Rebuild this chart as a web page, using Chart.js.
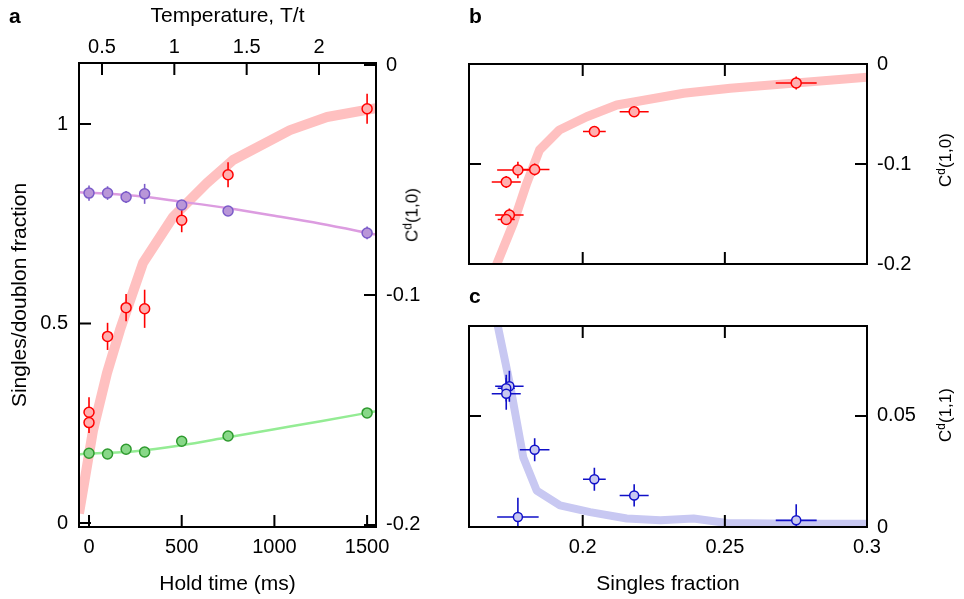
<!DOCTYPE html>
<html>
<head>
<meta charset="utf-8">
<script src="https://cdn.jsdelivr.net/npm/chart.js@4.4.1/dist/chart.umd.min.js"></script>
<style>
  html, body { margin: 0; padding: 0; background: #fff; }
  #fig { position: relative; width: 964px; height: 599px; overflow: hidden; font-family: "Liberation Sans", Arial, sans-serif; color: #000; }
  #fig canvas { position: absolute; }
  .panel { position: absolute; font-weight: bold; font-size: 21px; line-height: 1; }
  .ctitle { position: absolute; font-size: 17px; line-height: 1; white-space: nowrap; transform: translate(-50%, -50%) rotate(-90deg); }
  .ctitle sup { font-size: 0.7em; vertical-align: 0.5em; line-height: 0; }
</style>
</head>
<body>
<div id="fig">
  <canvas id="chartA" width="450" height="599" style="left:0;top:0"></canvas>
  <canvas id="chartB" width="514" height="290" style="left:450px;top:0"></canvas>
  <canvas id="chartC" width="514" height="309" style="left:450px;top:290px"></canvas>
  <div class="panel" style="left:9px;top:5px">a</div>
  <div class="panel" style="left:469px;top:5px">b</div>
  <div class="panel" style="left:469px;top:285px">c</div>
  <div class="ctitle" style="left:412px;top:215px">C<sup>d</sup>(1,0)</div>
  <div class="ctitle" style="left:945px;top:160px">C<sup>d</sup>(1,0)</div>
  <div class="ctitle" style="left:945px;top:415px">C<sup>d</sup>(1,1)</div>
</div>
<script>
// panel a: singles / doublon fractions vs hold time
const holdTime = [0, 100, 200, 300, 500, 750, 1500]
const doublonFrac = [0.827, 0.827, 0.817, 0.825, 0.797, 0.782, 0.727]
const doublonErr = [0.019, 0.017, 0.015, 0.025, 0.008, 0.008, 0.016]
const singlesFrac = [0.175, 0.173, 0.185, 0.178, 0.205, 0.218, 0.276]
const singlesErr = [0.005, 0.005, 0.005, 0.005, 0.005, 0.005, 0.005]

// fitted curves (panel a)
const fitTime = [-54, 0, 250, 500, 750, 1000, 1250, 1548]
const doublonFit = [0.829, 0.828, 0.82, 0.805, 0.789, 0.77, 0.75, 0.723]
const singlesFit = [0.172, 0.174, 0.18, 0.195, 0.215, 0.235, 0.255, 0.28]

// nearest-neighbour correlators, one entry per measurement
const corrTime = [0, 0, 100, 200, 300, 500, 750, 1500]
const singlesFraction = [0.1742, 0.1731, 0.1731, 0.1831, 0.1772, 0.2041, 0.2181, 0.2751]
const singlesFractionErr = [0.005, 0.003, 0.0051, 0.0052, 0.0073, 0.004, 0.0051, 0.0072]
const c10 = [-0.151, -0.1555, -0.118, -0.1055, -0.106, -0.0675, -0.0477, -0.019]
const c10Err = [0.0065, 0.0045, 0.0059, 0.0059, 0.0083, 0.0052, 0.0054, 0.0065]
const c11 = [0.0634, 0.0625, 0.06, 0.0348, 0.0045, 0.0215, 0.0142, 0.003]
const c11Err = [0.007, 0.006, 0.0072, 0.0052, 0.0087, 0.0052, 0.005, 0.0072]

// theory bands
const theoryTime = [-54, 22, 97, 167, 291, 453, 636, 777, 1084, 1284, 1548]
const theoryC10vsTime = [-0.195, -0.1587, -0.1339, -0.1152, -0.0861, -0.0661, -0.0513, -0.0413, -0.0283, -0.0226, -0.0187]
const theorySfB = [0.1695, 0.1756, 0.1803, 0.1848, 0.1918, 0.2014, 0.212, 0.2355, 0.2519, 0.3001]
const theoryC10 = [-0.202, -0.1593, -0.1193, -0.086, -0.066, -0.0527, -0.041, -0.0293, -0.0243, -0.0133]
const theorySfC = [0.1694, 0.1744, 0.1791, 0.1838, 0.192, 0.2026, 0.2155, 0.2273, 0.239, 0.2507, 0.2742, 0.3]
const theoryC11 = [0.095, 0.0642, 0.0313, 0.0164, 0.0097, 0.0067, 0.0038, 0.003, 0.0038, 0.0018, 0.0015, 0.0015]

// tick labels
const holdTicks = [0, 500, 1000, 1500]
const tempTicks = [0.5, 1, 1.5, 2]
const fracTicks = [0, 0.5, 1]
const c10Ticks = [0, -0.1, -0.2]
const sfTicks = [0.2, 0.25, 0.3]
const c11Ticks = [0, 0.05]

const colors = {
  red: "#ff0000",
  redFill: "#ffb0b0",
  pinkBand: "#ffc0c0",
  purple: "#7b5bc9",
  purpleFill: "#b996d8",
  purpleLine: "#dc9ce0",
  green: "#2e9a2e",
  greenFill: "#88d888",
  greenLine: "#94ec94",
  blue: "#1010c8",
  blueFill: "#c8c8f0",
  blueBand: "#c8c8f2",
}

Chart.defaults.font.family = "'Liberation Sans', Arial, sans-serif"
Chart.defaults.font.size = 20
Chart.defaults.color = "#000"

const pts = (xs, ys) => xs.map((x, i) => ({ x, y: ys[i] }))

// error bars drawn right before the marker dataset
const errorBars = {
  id: "errorBars",
  beforeDatasetDraw(chart, args) {
    const ds = chart.data.datasets[args.index]
    if (!ds.errX && !ds.errY) return
    const xs = chart.scales[args.meta.xAxisID]
    const ys = chart.scales[args.meta.yAxisID]
    const a = chart.chartArea
    const ctx = chart.ctx
    ctx.save()
    ctx.beginPath()
    ctx.rect(a.left, a.top, a.right - a.left, a.bottom - a.top)
    ctx.clip()
    ctx.strokeStyle = ds.pointBorderColor
    ctx.lineWidth = 1.6
    ds.data.forEach((p, i) => {
      const px = xs.getPixelForValue(p.x)
      const py = ys.getPixelForValue(p.y)
      ctx.beginPath()
      if (ds.errY) {
        ctx.moveTo(px, ys.getPixelForValue(p.y - ds.errY[i]))
        ctx.lineTo(px, ys.getPixelForValue(p.y + ds.errY[i]))
      }
      if (ds.errX) {
        ctx.moveTo(xs.getPixelForValue(p.x - ds.errX[i]), py)
        ctx.lineTo(xs.getPixelForValue(p.x + ds.errX[i]), py)
      }
      ctx.stroke()
    })
    ctx.restore()
  },
}

// box round the plot with inward tick marks on every side
const frame = {
  id: "frame",
  afterDraw(chart, args, opts) {
    const { ctx, chartArea: a } = chart
    const len = 12
    ctx.save()
    ctx.strokeStyle = "#000"
    ctx.lineWidth = 2
    ctx.strokeRect(a.left, a.top, a.right - a.left, a.bottom - a.top)
    ctx.beginPath()
    for (const side of ["bottom", "top", "left", "right"]) {
      const scale = chart.scales[opts[side]]
      if (!scale) continue
      for (const t of scale.ticks) {
        const p = scale.getPixelForValue(t.value)
        if (side === "bottom") { ctx.moveTo(p, a.bottom); ctx.lineTo(p, a.bottom - len) }
        if (side === "top") { ctx.moveTo(p, a.top); ctx.lineTo(p, a.top + len) }
        if (side === "left") { ctx.moveTo(a.left, p); ctx.lineTo(a.left + len, p) }
        if (side === "right") { ctx.moveTo(a.right, p); ctx.lineTo(a.right - len, p) }
      }
    }
    ctx.stroke()
    ctx.restore()
  },
}

function axis(o) {
  return {
    type: "linear",
    position: o.position,
    min: o.min,
    max: o.max,
    grid: { display: false, drawTicks: false },
    border: { display: false },
    afterBuildTicks: (s) => { s.ticks = o.ticks.map((value) => ({ value })) },
    afterFit: (s) => {
      if (s.isHorizontal()) s.height = o.size
      else s.width = o.size
    },
    ticks: {
      display: o.labels !== false,
      padding: o.pad ?? 8,
      autoSkip: false,
      maxRotation: 0,
      color: "#000",
      callback: (v) => String(v),
    },
    title: o.title
      ? { display: true, text: o.title, color: "#000", font: { size: 21 }, padding: o.titlePad }
      : { display: false },
  }
}

function markers(xs, ys, color, fill, r, errX, errY, xAxisID, yAxisID) {
  return {
    data: pts(xs, ys),
    errX,
    errY,
    xAxisID,
    yAxisID,
    showLine: false,
    pointRadius: r,
    pointBorderWidth: 1.5,
    pointBorderColor: color,
    pointBackgroundColor: fill,
    order: 1,
  }
}

function curve(xs, ys, color, width, order, xAxisID, yAxisID, smooth) {
  return {
    data: pts(xs, ys),
    xAxisID,
    yAxisID,
    showLine: true,
    pointRadius: 0,
    borderColor: color,
    borderWidth: width,
    borderJoinStyle: "round",
    cubicInterpolationMode: smooth ? "monotone" : "default",
    tension: 0,
    clip: 0,
    order,
  }
}

const baseOptions = {
  responsive: false,
  devicePixelRatio: 1,
  animation: false,
  events: [],
  plugins: { legend: { display: false }, tooltip: { enabled: false } },
}

new Chart(document.getElementById("chartA"), {
  type: "scatter",
  data: {
    datasets: [
      markers(holdTime, doublonFrac, colors.purple, colors.purpleFill, 5, null, doublonErr, "x", "y"),
      markers(corrTime, c10, colors.red, colors.redFill, 5, null, c10Err, "x", "yR"),
      markers(holdTime, singlesFrac, colors.green, colors.greenFill, 5, null, singlesErr, "x", "y"),
      curve(fitTime, doublonFit, colors.purpleLine, 2.5, 2, "x", "y", true),
      curve(fitTime, singlesFit, colors.greenLine, 2.5, 2, "x", "y", true),
      curve(theoryTime, theoryC10vsTime, colors.pinkBand, 10, 3, "x", "yR", false),
    ],
  },
  options: {
    ...baseOptions,
    layout: { padding: 0 },
    scales: {
      x: axis({ position: "bottom", min: -54, max: 1548, ticks: holdTicks, size: 72, pad: 8,
        title: "Hold time (ms)", titlePad: { top: 0, bottom: 2 } }),
      xT: axis({ position: "top", min: 0.341, max: 2.394, ticks: tempTicks, size: 63, pad: 4,
        title: "Temperature, T/t", titlePad: { top: 4, bottom: 0 } }),
      y: axis({ position: "left", min: -0.01, max: 1.153, ticks: fracTicks, size: 79, pad: 11,
        title: "Singles/doublon fraction", titlePad: { top: 8, bottom: 0 } }),
      yR: axis({ position: "right", min: -0.2009, max: 0.0009, ticks: c10Ticks, size: 74, pad: 10 }),
    },
    plugins: { ...baseOptions.plugins, frame: { bottom: "x", top: "xT", left: "y", right: "yR" } },
  },
  plugins: [errorBars, frame],
})

new Chart(document.getElementById("chartB"), {
  type: "scatter",
  data: {
    datasets: [
      markers(singlesFraction, c10, colors.red, colors.redFill, 5, singlesFractionErr, c10Err, "x", "y"),
      curve(theorySfB, theoryC10, colors.pinkBand, 9, 3, "x", "y", false),
    ],
  },
  options: {
    ...baseOptions,
    layout: { padding: { left: 19, top: 64, right: 0, bottom: 0 } },
    scales: {
      x: axis({ position: "bottom", min: 0.16, max: 0.3, ticks: sfTicks, size: 26, labels: false }),
      y: axis({ position: "right", min: -0.2, max: 0, ticks: c10Ticks, size: 97, pad: 10 }),
    },
    plugins: { ...baseOptions.plugins, frame: { bottom: "x", top: "x", left: "y", right: "y" } },
  },
  plugins: [errorBars, frame],
})

new Chart(document.getElementById("chartC"), {
  type: "scatter",
  data: {
    datasets: [
      markers(singlesFraction, c11, colors.blue, colors.blueFill, 4.5, singlesFractionErr, c11Err, "x", "y"),
      curve(theorySfC, theoryC11, colors.blueBand, 8, 3, "x", "y", false),
    ],
  },
  options: {
    ...baseOptions,
    layout: { padding: { left: 19, top: 36, right: 0, bottom: 0 } },
    scales: {
      x: axis({ position: "bottom", min: 0.16, max: 0.3, ticks: sfTicks, size: 72, pad: 8,
        title: "Singles fraction", titlePad: { top: 0, bottom: 2 } }),
      y: axis({ position: "right", min: 0, max: 0.0905, ticks: c11Ticks, size: 97, pad: 10 }),
    },
    plugins: { ...baseOptions.plugins, frame: { bottom: "x", top: "x", left: "y", right: "y" } },
  },
  plugins: [errorBars, frame],
})
</script>
</body>
</html>
